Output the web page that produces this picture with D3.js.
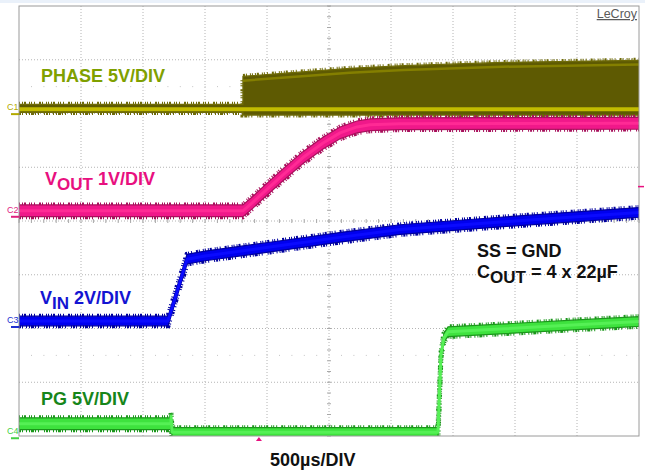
<!DOCTYPE html>
<html><head><meta charset="utf-8">
<script src="https://cdn.jsdelivr.net/npm/d3@7"></script>
<style>
html,body{margin:0;padding:0;background:#fff;}
svg{display:block;font-family:"Liberation Sans",Arial,sans-serif;}
</style></head><body>
<svg id="scope" width="645" height="475"></svg>
<script>
// Screen: 10 time divisions at 500 µs/div, 8 vertical divisions
const timeDivisions = 10;
const usPerDiv = 500;
const verticalDivisions = 8;

// Channel settings: V/div and ground-marker position (divisions from screen bottom)
const channelNames = ["C1", "C2", "C3", "C4"];
const voltsPerDiv = [5, 1, 2, 5];
const groundDiv = [6.10, 4.19, 2.14, 0.07];

// C1 – PHASE (switch node): envelope of the switching waveform
const phaseT  = [0, 1806, 1806, 2200, 2669, 3100, 3900, 5000];
const phaseLo = [-0.40, -0.40, -0.65, -0.65, -0.65, -0.65, -0.65, -0.65];
const phaseHi = [0.35, 0.35, 2.95, 3.30, 3.70, 3.95, 4.25, 4.45];
// high level of the switching node once the converter runs
const phaseHighT = [1806, 2200, 2669, 3100, 3900, 5000];
const phaseHighV = [2.55, 2.90, 3.30, 3.55, 3.85, 4.05];

// C2 – VOUT soft-start ramp
const voutT = [0, 1806, 1887, 1968, 2129, 2290, 2452, 2589, 2726, 2831, 3073, 5000];
const voutV = [0, 0, 0.16, 0.335, 0.67, 0.99, 1.26, 1.45, 1.56, 1.60, 1.62, 1.63];
const voutNoise = 0.11;

// C3 – VIN
const vinT = [0, 1202, 1355, 1500, 2024, 2600, 3073, 3879, 4500, 5000];
const vinV = [0, 0, 2.30, 2.42, 2.75, 3.12, 3.40, 3.68, 3.88, 4.04];
const vinNoise = 0.18;

// C4 – PG
const pgT  = [0, 1226, 1226, 1234, 3379, 3403, 3427, 3460, 3879, 4500, 5000];
const pgV  = [0.79, 0.79, 1.50, 0.00, 0.00, 7.20, 8.80, 9.35, 9.60, 10.0, 10.3];
const pgNoise = [0.55, 0.55, 0.30, 0.42, 0.42, 0.20, 0.40, 0.45, 0.45, 0.45, 0.45];

// Trigger: position in time and level on C2
const triggerTimeUs = 1935;
const triggerLevelV = 0.45;

const labels = [
  {parts: [["PHASE 5V/DIV", 0]], x: 41, y: 82, color: "#7fa000"},
  {parts: [["V", 0], ["OUT", 1], [" 1V/DIV", 0]], x: 45, y: 185, color: "#e8107f"},
  {parts: [["V", 0], ["IN", 1], [" 2V/DIV", 0]], x: 40, y: 304, color: "#1414d2"},
  {parts: [["PG 5V/DIV", 0]], x: 41, y: 405, color: "#17861a"},
  {parts: [["SS = GND", 0]], x: 477, y: 257, color: "#111"},
  {parts: [["C", 0], ["OUT", 1], [" = 4 x 22µF", 0]], x: 477, y: 278, color: "#111"},
  {parts: [["500µs/DIV", 0]], x: 270, y: 466, color: "#111"}
];

const W = 645, H = 475;
const frame = {left: 19, right: 639, top: 6, bottom: 436};

const svg = d3.select("#scope");
svg.append("rect").attr("width", W).attr("height", H).attr("fill", "#fff");
svg.append("rect").attr("x", 0).attr("y", 0).attr("width", W).attr("height", 3).attr("fill", "#eaf1fa");

const x = d3.scaleLinear().domain([0, timeDivisions * usPerDiv]).range([frame.left, frame.right]);
const yDiv = d3.scaleLinear().domain([0, verticalDivisions]).range([frame.bottom, frame.top]);
const yCh = voltsPerDiv.map((vpd, i) =>
  d3.scaleLinear().domain([0, vpd]).range([yDiv(groundDiv[i]), yDiv(groundDiv[i] + 1)]));

// ---- graticule ----
const grid = svg.append("g");
d3.range(1, timeDivisions).forEach(i => {
  const gx = x(i * usPerDiv);
  grid.append("line").attr("x1", gx).attr("x2", gx).attr("y1", frame.top).attr("y2", frame.bottom)
    .attr("stroke", "#b4b4b4").attr("stroke-width", 1).attr("stroke-dasharray", "1,2");
});
d3.range(1, verticalDivisions).forEach(j => {
  const gy = yDiv(j);
  grid.append("line").attr("x1", frame.left).attr("x2", frame.right).attr("y1", gy).attr("y2", gy)
    .attr("stroke", "#b4b4b4").attr("stroke-width", 1).attr("stroke-dasharray", "1,2");
});
// sparse half-division rows
[1.5, 6.5].forEach(j => {
  const gy = yDiv(j);
  grid.append("line").attr("x1", frame.left + 12).attr("x2", frame.right).attr("y1", gy).attr("y2", gy)
    .attr("stroke", "#c4c4c4").attr("stroke-width", 1).attr("stroke-dasharray", "1,11.4");
});
// centre-axis minor ticks
const cx = x(timeDivisions * usPerDiv / 2), cy = yDiv(verticalDivisions / 2);
d3.range(0, timeDivisions * 5 + 1).forEach(k => {
  const tx = x(k * usPerDiv / 5);
  grid.append("line").attr("x1", tx).attr("x2", tx).attr("y1", cy - 2).attr("y2", cy + 2)
    .attr("stroke", "#a8a8a8").attr("stroke-width", 1);
});
d3.range(0, verticalDivisions * 5 + 1).forEach(k => {
  const ty = yDiv(k / 5);
  grid.append("line").attr("x1", cx - 2).attr("x2", cx + 2).attr("y1", ty).attr("y2", ty)
    .attr("stroke", "#a8a8a8").attr("stroke-width", 1);
});

// ---- traces ----
const clip = svg.append("clipPath").attr("id", "screen");
clip.append("rect").attr("x", frame.left).attr("y", frame.top)
  .attr("width", frame.right - frame.left).attr("height", frame.bottom - frame.top);
const traces = svg.append("g").attr("clip-path", "url(#screen)");

const spikeDash = "1,2,1,1,2,3,1,1,1,2,1,4,2,1,1,3,1,1";
const spikeDash2 = "2,1,1,3,1,2,1,1,3,1,1,2,1,5,1,1";

function drawBand(ch, T, lo, hi, c) {
  const y = yCh[ch];
  const pts = T.map((t, i) => ({t, lo: lo[i], hi: hi[i]}));
  const area = d3.area().x(d => x(d.t)).y0(d => y(d.lo)).y1(d => y(d.hi));
  const upper = d3.line().x(d => x(d.t)).y(d => y(d.hi));
  const lower = d3.line().x(d => x(d.t)).y(d => y(d.lo));
  const g = traces.append("g");
  // noisy fringe along both envelopes
  g.append("path").attr("d", upper(pts)).attr("fill", "none").attr("stroke", c.edge)
    .attr("stroke-width", 5).attr("stroke-dasharray", spikeDash);
  g.append("path").attr("d", lower(pts)).attr("fill", "none").attr("stroke", c.edge)
    .attr("stroke-width", 5).attr("stroke-dasharray", spikeDash2);
  g.append("path").attr("d", area(pts)).attr("fill", c.body).attr("stroke", c.edge).attr("stroke-width", 1.2);
  return g;
}

function drawCore(g, ch, T, V, color, width) {
  const y = yCh[ch];
  const line = d3.line().x((d, i) => x(T[i])).y(d => y(d));
  return g.append("path").attr("d", line(V)).attr("fill", "none").attr("stroke", color)
    .attr("stroke-width", width).attr("stroke-linejoin", "round");
}

// C1 PHASE
const gPhase = drawBand(0, phaseT, phaseLo, phaseHi, {body: "#5e5a02", edge: "#6f6b08"});
drawCore(gPhase, 0, phaseT, phaseT.map(() => -0.1), "#c2bc00", 4);
drawCore(gPhase, 0, phaseHighT, phaseHighV, "#8d8800", 2.5).attr("opacity", 0.8);

// C2 VOUT
const gVout = drawBand(1, voutT, voutV.map(v => v - voutNoise), voutV.map(v => v + voutNoise),
  {body: "#f0188a", edge: "#a8105c"});
drawCore(gVout, 1, voutT, voutV, "#ff2a95", 3);

// C3 VIN
const gVin = drawBand(2, vinT, vinV.map(v => v - vinNoise), vinV.map(v => v + vinNoise),
  {body: "#0000ee", edge: "#00009e"});
drawCore(gVin, 2, vinT, vinV, "#0a0aff", 3);

// C4 PG
const gPg = drawBand(3, pgT, pgV.map((v, i) => v - pgNoise[i]), pgV.map((v, i) => v + pgNoise[i]),
  {body: "#3ee23e", edge: "#1b971b"});
drawCore(gPg, 3, pgT, pgV, "#55f055", 3);

// ---- screen frame ----
svg.append("rect").attr("x", frame.left).attr("y", frame.top)
  .attr("width", frame.right - frame.left).attr("height", frame.bottom - frame.top)
  .attr("fill", "none").attr("stroke", "#9a9a9a").attr("stroke-width", 1);

// ---- channel ground markers ----
const markerColors = ["#b3aa00", "#e0207f", "#2030d0", "#45d045"];
channelNames.forEach((name, i) => {
  const gy = yCh[i](0);
  svg.append("text").attr("x", 7).attr("y", gy + 2).attr("font-size", 9)
    .attr("fill", markerColors[i]).text(name);
  svg.append("line").attr("x1", 11).attr("x2", 19).attr("y1", gy + 6).attr("y2", gy + 6)
    .attr("stroke", markerColors[i]).attr("stroke-width", 2);
});

// trigger position (bottom) and trigger level (right edge, on C2)
const tx = x(triggerTimeUs);
svg.append("path").attr("d", `M${tx - 3},${frame.bottom + 5}L${tx + 3},${frame.bottom + 5}L${tx},${frame.bottom + 1}Z`)
  .attr("fill", "#e8107f");
const ty = yCh[1](triggerLevelV);
svg.append("line").attr("x1", frame.right - 1).attr("x2", frame.right + 5).attr("y1", ty).attr("y2", ty)
  .attr("stroke", "#e8107f").attr("stroke-width", 1.5);

// ---- text ----
labels.forEach(l => {
  const t = svg.append("text").attr("x", l.x).attr("y", l.y).attr("fill", l.color)
    .attr("font-weight", "bold").attr("font-size", 18).attr("xml:space", "preserve");
  let shift = 0;
  l.parts.forEach(([s, sub]) => {
    const want = sub ? 5 : 0;
    t.append("tspan").attr("dy", want - shift).attr("font-size", sub ? 17 : 18).text(s);
    shift = want;
  });
});

svg.append("text").attr("x", 637).attr("y", 18).attr("text-anchor", "end")
  .attr("font-size", 12.5).attr("fill", "#5a5a5a").attr("text-decoration", "underline").text("LeCroy");
</script>
</body></html>
